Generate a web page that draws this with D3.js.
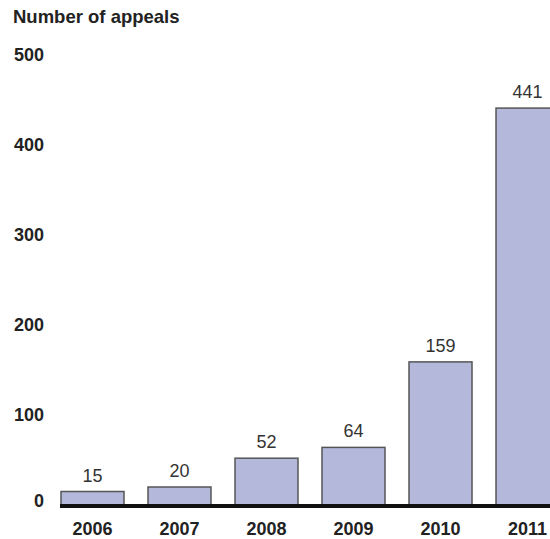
<!DOCTYPE html>
<html><head><meta charset="utf-8">
<script src="https://cdn.jsdelivr.net/npm/d3@7/dist/d3.min.js"></script>
<style>body{margin:0;background:#fff}svg{display:block;font-family:Arial,"Liberation Sans",sans-serif}</style>
</head><body><svg id="c" width="550" height="539"></svg>
<script>
const years = ["2006","2007","2008","2009","2010","2011"];
const appeals = [15,20,52,64,159,441];
const yTicks = [0,100,200,300,400,500];
const title = "Number of appeals";

const svg = d3.select("#c");
const x = d3.scaleBand().domain(years).range([61,559]).paddingInner(0.276).paddingOuter(0);
const y = d3.scaleLinear().domain([0,500]).range([505,55]);

svg.append("text").attr("x",13).attr("y",23).attr("font-size",18.5).attr("font-weight","bold").attr("fill","#222").text(title);

svg.selectAll(".yt").data(yTicks).enter().append("text")
  .attr("x",44).attr("y",d=>y(d)-(d===0?4:0)).attr("dy","0.35em").attr("text-anchor","end")
  .attr("font-size",18).attr("font-weight","bold").attr("fill","#222").text(d=>d);

svg.selectAll(".bar").data(years).enter().append("rect")
  .attr("x",d=>x(d)).attr("y",(d,i)=>y(appeals[i])).attr("width",x.bandwidth())
  .attr("height",(d,i)=>y(0)-y(appeals[i]))
  .attr("fill","#b4b9dc").attr("stroke","#555").attr("stroke-width",1.5);

svg.selectAll(".val").data(years).enter().append("text")
  .attr("x",d=>x(d)+x.bandwidth()/2).attr("y",(d,i)=>y(appeals[i])-10).attr("text-anchor","middle")
  .attr("font-size",18).attr("fill","#333").text((d,i)=>appeals[i]);

svg.append("rect").attr("x",60).attr("y",y(0)-1).attr("width",490).attr("height",4).attr("fill","#111");

svg.selectAll(".xl").data(years).enter().append("text")
  .attr("x",d=>x(d)+x.bandwidth()/2).attr("y",535).attr("text-anchor","middle")
  .attr("font-size",18).attr("font-weight","bold").attr("fill","#222").text(d=>d);
</script></body></html>
